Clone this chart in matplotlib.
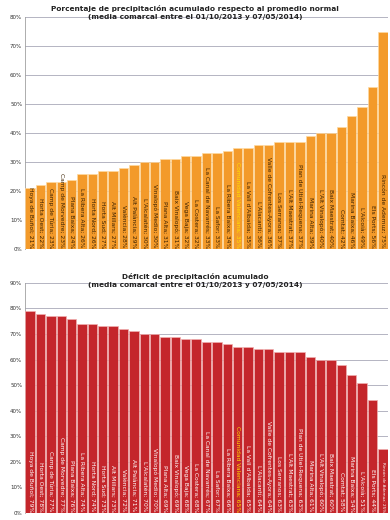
import matplotlib
matplotlib.use("Agg")
import matplotlib.pyplot as plt
from matplotlib.ticker import FuncFormatter, MultipleLocator

comarcas = ["Hoya de Buñol", "Horta Oest", "Camp de Túria", "Camp de Morvedre", "Plana Baixa",
            "La Ribera Alta", "Horta Nord", "Horta Sud", "Alt Millars", "València",
            "Alt Palància", "L'Alcalatén", "Vinalopó Medio", "Plana Alta", "Baix Vinalopó",
            "Vega Baja", "La Costera", "La Canal de Navarrés", "La Safor", "La Ribera Baixa",
            "Comunidad Valenciana", "La Vall d'Albaida", "L'Alacantí", "Valle de Cofrentes-Ayora",
            "Los Serranos", "L'Alt Maestrat", "Plan de Utiel-Requena", "Marina Alta",
            "L'Alt Vinalopó", "Baix Maestrat", "Comtat", "Marina Baixa", "L'Alcoià",
            "Els Ports", "Rincón de Ademuz"]
porcentaje = [21, 22, 23, 23, 24, 26, 26, 27, 27, 28, 29, 30, 30, 31, 31, 32, 32, 33, 33, 34,
              35, 35, 36, 36, 37, 37, 37, 39, 40, 40, 42, 46, 49, 56, 75]
deficit = [79, 78, 77, 77, 76, 74, 74, 73, 73, 72, 71, 70, 70, 69, 69, 68, 68, 67, 67, 66,
           65, 65, 64, 64, 63, 63, 63, 61, 60, 60, 58, 54, 51, 44, 25]
highlight = "Comunidad Valenciana"

title1 = "Porcentaje de precipitación acumulado respecto al promedio normal\n(media comarcal entre el 01/10/2013 y 07/05/2014)"
title2 = "Déficit de precipitación acumulado\n(media comarcal entre el 01/10/2013 y 07/05/2014)"

fig = plt.figure(figsize=(3.9, 5.2), dpi=100)
fig.patch.set_facecolor("white")


def draw(ax, values, ymax, color, edge, txtcolor, title, title_y, shrink_short):
    x = range(len(values))
    ax.bar(x, values, width=0.9, color=color, edgecolor=edge, linewidth=0.5, zorder=3)
    ax.set_xlim(-0.5, len(values) - 0.5)
    ax.set_ylim(0, ymax)
    ax.yaxis.set_major_locator(MultipleLocator(10))
    ax.yaxis.set_major_formatter(FuncFormatter(lambda v, p: f"{int(round(v))}%"))
    ax.tick_params(axis="y", labelsize=4, length=0, pad=2, colors="#333333")
    ax.set_xticks([])
    ax.grid(axis="y", color="#a8a8b8", linewidth=0.6, zorder=0)
    for s in ["top", "right", "bottom"]:
        ax.spines[s].set_visible(False)
    ax.spines["left"].set_color("#a0a0a0")
    ax.spines["left"].set_linewidth(0.6)
    ax.set_facecolor("none")
    for i, (name, v) in enumerate(zip(comarcas, values)):
        c = "#ffe000" if name == highlight else txtcolor
        fs = 3.0 if (shrink_short and v / ymax < 0.35) else 4.3
        ax.text(i, ymax * 0.005, f"{name}; {v}%", rotation=270, rotation_mode="anchor",
                ha="right", va="center", fontsize=fs, color=c, zorder=4)
    fig.text(0.5, title_y, title, ha="center", va="top", fontsize=5.3,
             fontweight="bold", color="#222222", linespacing=1.35)

ax1 = fig.add_axes([0.064, 0.521, 0.931, 0.446])
draw(ax1, porcentaje, 80, "#f39a2a", "#ffd9a0", "#3a2000", title1, 0.99, False)

ax2 = fig.add_axes([0.064, 0.0135, 0.931, 0.4425])
draw(ax2, deficit, 90, "#c4262b", "#f0b0b0", "white", title2, 0.475, True)

fig.savefig("out.png", dpi=100, facecolor="white")
